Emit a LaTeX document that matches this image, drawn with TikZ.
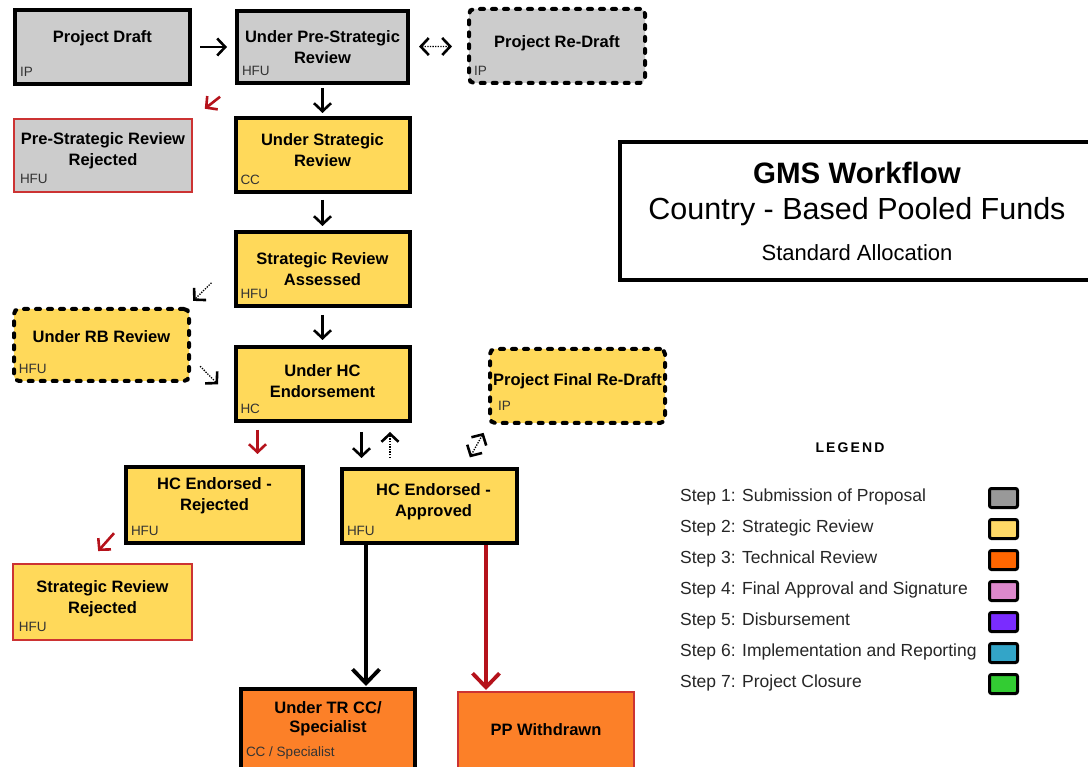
\documentclass[tikz,border=0pt]{standalone}
\usepackage{fontspec}
\setmainfont{Liberation Sans}
\usetikzlibrary{arrows.meta,positioning}

\definecolor{boxgray}{HTML}{CCCCCC}
\definecolor{boxyellow}{HTML}{FFD95A}
\definecolor{boxorange}{HTML}{FC8028}
\definecolor{rejectred}{HTML}{CC3333}
\definecolor{arrowred}{HTML}{B5121B}
\definecolor{stepone}{HTML}{999999}
\definecolor{steptwo}{HTML}{FFD966}
\definecolor{stepthree}{HTML}{FF6600}
\definecolor{stepfour}{HTML}{DD88CC}
\definecolor{stepfive}{HTML}{7A2CFF}
\definecolor{stepsix}{HTML}{33A5C8}
\definecolor{stepseven}{HTML}{33CC33}

\begin{document}
\begin{tikzpicture}[x=1pt, y=-1pt,
box/.style={draw=black, line width=4pt, inner sep=0pt, minimum width=174pt, minimum height=74pt},
graybox/.style={box, fill=boxgray},
yellowbox/.style={box, fill=boxyellow},
orangebox/.style={box, fill=boxorange},
redline/.style={draw=rejectred, line width=2pt},
dashedbox/.style={dash pattern=on 4pt off 8pt, line cap=round, rounded corners=5pt},
title/.style={anchor=center, align=center, inner sep=0pt, font=\fontsize{16.5}{21}\selectfont\bfseries},
role/.style={anchor=south west, inner xsep=7pt, inner ysep=9pt, outer sep=0pt, font=\fontsize{13.5}{15}\selectfont, text=black!80},
flow/.style={line width=2.6pt, -{Straight Barb[length=8pt,width=17pt]}},
rejflow/.style={flow, draw=arrowred},
optflow/.style={line width=1.3pt, dash pattern=on 1.3pt off 1.3pt, -{Straight Barb[line width=2.6pt,length=8pt,width=17pt]}},
optboth/.style={optflow, {Straight Barb[line width=2.6pt,length=8pt,width=17pt]}-{Straight Barb[line width=2.6pt,length=8pt,width=17pt]}},
mainflow/.style={line width=3.8pt, -{Straight Barb[length=14pt,width=27pt]}},
legendtext/.style={anchor=west, inner sep=0pt, font=\fontsize{17.5}{20}\selectfont, text=black!85},
swatch/.style={draw=black, line width=3pt, rounded corners=2pt, minimum width=28pt, minimum height=19pt, inner sep=0pt},
]
\useasboundingbox (0,0) rectangle (1088,767);
\fill[white] (0,0) rectangle (1088,767);

\node[graybox, minimum width=175pt, label={[title,yshift=9pt]center:Project Draft}, label={[role]south west:IP}] (draft) at (102.5,47) {};
\node[graybox, minimum width=171pt, minimum height=72pt, label={[title]center:{Under Pre-Strategic\\Review}}, label={[role]south west:HFU}] (prestrat) at (322.5,47) {};
\node[graybox, dashedbox, minimum width=176pt, label={[title,yshift=3pt]center:Project Re-Draft}, label={[role]south west:IP}] (redraft) at (557,46) {};
\node[graybox, redline, minimum width=178pt, minimum height=73pt, label={[title,yshift=5pt]center:{Pre-Strategic Review\\Rejected}}, label={[role]south west:HFU}] (prerej) at (103,155.5) {};

\node[yellowbox, below=31pt of prestrat, label={[title,yshift=5pt]center:{Under Strategic\\Review}}, label={[role]south west:CC}] (strat) {};
\node[yellowbox, below=36pt of strat, label={[title]center:{Strategic Review\\Assessed}}, label={[role]south west:HFU}] (assessed) {};
\node[yellowbox, dashedbox, minimum width=175pt, minimum height=72pt, label={[title,yshift=8pt]center:Under RB Review}, label={[role]south west:HFU}] (rb) at (101.5,345) {};
\node[yellowbox, below=37pt of assessed, label={[title,yshift=3pt]center:{Under HC\\Endorsement}}, label={[role]south west:HC}] (hcendo) {};
\node[yellowbox, dashedbox, minimum width=175pt, label={[title,yshift=5pt]center:Project Final Re-Draft}, label={[role,xshift=3pt,yshift=5pt]south west:IP}] (finalredraft) at (577.5,386) {};
\node[yellowbox, minimum width=177pt, minimum height=76pt, label={[title,yshift=9pt]center:{HC Endorsed -\\Rejected}}, label={[role]south west:HFU}] (hcrej) at (214.5,505) {};
\node[yellowbox, minimum width=175pt, label={[title,xshift=4pt,yshift=4pt]center:{HC Endorsed -\\Approved}}, label={[role]south west:HFU}] (hcapp) at (429.5,506) {};
\node[yellowbox, redline, minimum width=179pt, minimum height=76pt, label={[title,yshift=3pt]center:{Strategic Review\\Rejected}}, label={[role]south west:HFU}] (srrej) at (102.5,602) {};

\node[orangebox, minimum width=174pt, minimum height=81pt, label={[title,yshift=11pt,font=\fontsize{16.5}{19}\selectfont\bfseries]center:{Under TR CC/\\Specialist}}, label={[role,yshift=4pt]south west:CC / Specialist}] (techrev) at (328,729.5) {};
\node[orangebox, redline, minimum width=176pt, minimum height=79pt, label={[title,yshift=2pt]center:PP Withdrawn}] (withdrawn) at (546,731.5) {};

\draw[flow, shorten <=8pt, shorten >=8pt] (draft) -- (prestrat);
\draw[optboth, shorten <=9pt, shorten >=15pt] (prestrat) -- (redraft);
\draw[flow, shorten <=3pt, shorten >=3pt] (prestrat) -- (strat);
\draw[rejflow, shorten <=19pt, shorten >=15pt] (prestrat.south west) -- (prerej.north east);
\draw[flow, shorten <=6pt, shorten >=4pt] (strat) -- (assessed);
\draw[optflow, shorten <=31pt, shorten >=3pt] ([yshift=8pt]assessed.west) -- ([yshift=4pt]rb.north east);
\draw[flow, shorten <=7pt, shorten >=5pt] (assessed) -- (hcendo);
\draw[optflow, shorten <=13pt, shorten >=22pt] ([yshift=-12pt]rb.east) -- ([yshift=-16pt]hcendo.west);
\draw[rejflow, shorten <=7pt, shorten >=11pt] ([xshift=-65pt]hcendo.south) -- ([xshift=-65pt]hcendo.south |- hcrej.north);
\draw[flow, shorten <=9pt, shorten >=9pt] ([xshift=39pt]hcendo.south) -- ([xshift=39pt]hcendo.south |- hcapp.north);
\draw[optflow, shorten <=9pt, shorten >=9pt] ([xshift=-39.5pt]hcapp.north) -- ([xshift=-39.5pt]hcapp.north |- hcendo.south);
\draw[optboth, shorten <=11pt, shorten >=9pt] ([xshift=35pt]hcapp.north) -- (finalredraft.south west);
\draw[rejflow, shorten <=15pt, shorten >=16pt] ([yshift=-17pt]hcrej.west) -- ([xshift=-15pt]srrej.north);
\draw[mainflow, shorten >=1pt] ([xshift=-63.5pt]hcapp.south) -- ([xshift=-63.5pt]hcapp.south |- techrev.north);
\draw[mainflow, draw=arrowred, shorten >=1pt] ([xshift=56.5pt]hcapp.south) -- ([xshift=56.5pt]hcapp.south |- withdrawn.north);

\node[draw=black, line width=4pt, fill=white, minimum width=474pt, minimum height=138pt] (gmsbox) at (857,211) {};
\node[font=\fontsize{29.5}{34}\selectfont\bfseries] (gmstitle) at (857,173) {GMS Workflow};
\node[font=\fontsize{30.5}{35}\selectfont] (gmsfund) at (857,212) {Country - Based Pooled Funds};
\node[font=\fontsize{22}{26}\selectfont] (gmsalloc) at (857,253) {Standard Allocation};

\node[font=\fontsize{14}{16}\selectfont\bfseries\addfontfeature{LetterSpace=15}] (legend) at (850,448) {LEGEND};
\foreach \i/\desc/\col in {1/Submission of Proposal/stepone, 2/Strategic Review/steptwo, 3/Technical Review/stepthree, 4/Final Approval and Signature/stepfour, 5/Disbursement/stepfive, 6/Implementation and Reporting/stepsix, 7/Project Closure/stepseven}{
  \node[legendtext] (step\i) at (680,{466+31*\i}) {Step \i: \desc};
  \node[swatch, fill=\col] (swatch\i) at (1003.5,{467+31*\i}) {};
}
\end{tikzpicture}
\end{document}
